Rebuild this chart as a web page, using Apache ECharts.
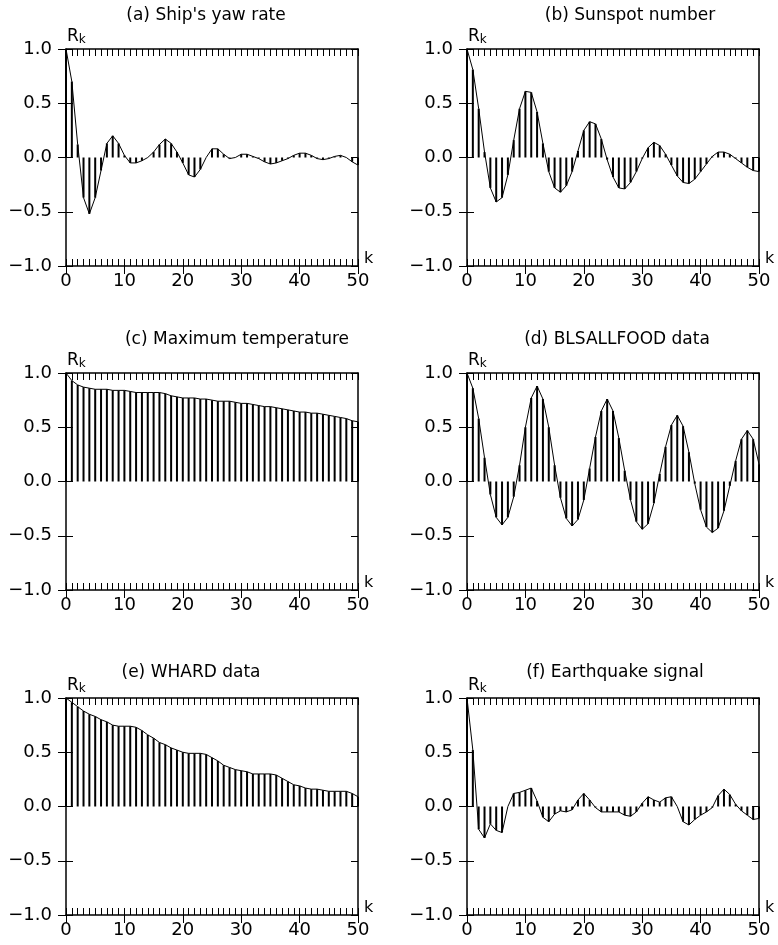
<!DOCTYPE html>
<html>
<head>
<meta charset="utf-8">
<script src="https://cdn.jsdelivr.net/npm/echarts@6/dist/echarts.min.js"></script>
<style>
html,body{margin:0;padding:0;background:#fff;}
#chart{width:778px;height:945px;}
</style>
</head>
<body>
<div id="chart"></div>
<script>
// ---------- data ----------
const lags = [0,1,2,3,4,5,6,7,8,9,10,11,12,13,14,15,16,17,18,19,20,21,22,23,24,25,26,27,28,29,30,31,32,33,34,35,36,37,38,39,40,41,42,43,44,45,46,47,48,49,50];

const panelTitles = ['(a) Ship\'s yaw rate', '(b) Sunspot number', '(c) Maximum temperature', '(d) BLSALLFOOD data', '(e) WHARD data', '(f) Earthquake signal'];

const shipYaw = [1.00,0.70,0.12,-0.37,-0.52,-0.37,-0.12,0.13,0.20,0.13,0.02,-0.05,-0.05,-0.03,0.00,0.05,0.12,0.17,0.13,0.05,-0.05,-0.16,-0.18,-0.11,0.00,0.08,0.08,0.03,-0.01,0.00,0.03,0.03,0.01,-0.01,-0.04,-0.06,-0.05,-0.03,-0.01,0.02,0.04,0.04,0.02,-0.01,-0.02,-0.01,0.01,0.02,0.00,-0.04,-0.07];

const sunspot = [1.00,0.81,0.45,0.05,-0.28,-0.41,-0.37,-0.16,0.16,0.45,0.61,0.60,0.42,0.13,-0.13,-0.28,-0.32,-0.26,-0.13,0.06,0.25,0.33,0.31,0.17,-0.02,-0.18,-0.28,-0.29,-0.23,-0.13,-0.01,0.09,0.14,0.11,0.03,-0.07,-0.17,-0.23,-0.24,-0.20,-0.13,-0.06,0.01,0.05,0.05,0.03,-0.01,-0.05,-0.09,-0.12,-0.13];

const maxTemp = [1.00,0.93,0.89,0.87,0.86,0.85,0.85,0.85,0.84,0.84,0.84,0.83,0.82,0.82,0.82,0.82,0.82,0.81,0.79,0.78,0.77,0.77,0.77,0.76,0.76,0.75,0.74,0.74,0.74,0.73,0.72,0.72,0.71,0.70,0.69,0.69,0.68,0.67,0.66,0.65,0.64,0.64,0.63,0.63,0.62,0.61,0.60,0.59,0.58,0.56,0.55];

const blsAllFood = [1.00,0.86,0.58,0.22,-0.12,-0.33,-0.40,-0.33,-0.14,0.15,0.50,0.77,0.88,0.76,0.50,0.15,-0.15,-0.34,-0.41,-0.35,-0.17,0.12,0.41,0.65,0.76,0.65,0.40,0.10,-0.17,-0.37,-0.44,-0.39,-0.20,0.07,0.32,0.52,0.61,0.51,0.27,-0.02,-0.26,-0.42,-0.47,-0.43,-0.27,-0.04,0.19,0.39,0.47,0.39,0.16];

const whard = [1.00,0.96,0.92,0.88,0.85,0.83,0.80,0.78,0.75,0.74,0.74,0.74,0.73,0.70,0.66,0.63,0.59,0.57,0.54,0.52,0.50,0.49,0.49,0.49,0.48,0.45,0.42,0.38,0.36,0.34,0.33,0.32,0.30,0.30,0.30,0.30,0.29,0.26,0.23,0.20,0.19,0.17,0.16,0.16,0.15,0.14,0.14,0.14,0.14,0.12,0.09];

const earthquake = [1.00,0.52,-0.21,-0.29,-0.16,-0.22,-0.24,0.00,0.12,0.13,0.15,0.17,0.05,-0.10,-0.14,-0.07,-0.04,-0.05,-0.03,0.06,0.12,0.06,-0.01,-0.05,-0.05,-0.05,-0.05,-0.08,-0.09,-0.05,0.03,0.09,0.06,0.04,0.08,0.09,0.00,-0.14,-0.17,-0.12,-0.08,-0.05,-0.01,0.10,0.16,0.11,0.02,-0.04,-0.08,-0.12,-0.11];

const xTickLabels = ['0','10','20','30','40','50'];
const yTickLabels = ['\u22121.0','\u22120.5','0.0','0.5','1.0'];

const panelSeries = [shipYaw, sunspot, maxTemp, blsAllFood, whard, earthquake];

// ---------- layout ----------
const FONT = 'DejaVu Sans';
const colLeft = [66, 467];
const rowTop = [49, 373, 698];
const gW = 292, gH = 217;
const titleCX = [206, 630, 237, 617, 191, 615];
const titleCY = [16, 16, 340, 340, 673, 673];

const grids = [], xAxes = [], yAxes = [], series = [], graphics = [];

for (let p = 0; p < 6; p++) {
  const col = p % 2, row = Math.floor(p / 2);
  const left = colLeft[col], top = rowTop[row];
  grids.push({left: left, top: top, width: gW, height: gH, show: false, containLabel: false});

  const baseX = {gridIndex: p, type: 'value', min: 0, max: 50, splitLine: {show: false}};
  xAxes.push(Object.assign({}, baseX, {
    position: 'bottom', interval: 10,
    axisLine: {show: true, onZero: false, lineStyle: {color: '#000', width: 1.5}},
    axisTick: {show: true, inside: false, length: 8, lineStyle: {color: '#000', width: 1}},
    axisLabel: {show: true, margin: 6, color: '#000', fontFamily: FONT, fontSize: 18,
      formatter: v => xTickLabels[Math.round(v / 10)]}
  }));
  xAxes.push(Object.assign({}, baseX, {
    position: 'bottom', interval: 1,
    axisLine: {show: false, onZero: false},
    axisTick: {show: true, inside: true, length: 7, lineStyle: {color: '#000', width: 1}},
    axisLabel: {show: false}
  }));
  xAxes.push(Object.assign({}, baseX, {
    position: 'top', interval: 1,
    axisLine: {show: true, onZero: false, lineStyle: {color: '#000', width: 1.5}},
    axisTick: {show: true, inside: true, length: 7, lineStyle: {color: '#000', width: 1}},
    axisLabel: {show: false}
  }));

  const baseY = {gridIndex: p, type: 'value', min: -1, max: 1, interval: 0.5, splitLine: {show: false}};
  yAxes.push(Object.assign({}, baseY, {
    position: 'left',
    axisLine: {show: true, onZero: false, lineStyle: {color: '#000', width: 1.5}},
    axisTick: {show: true, inside: false, length: 8, lineStyle: {color: '#000', width: 1}},
    axisLabel: {show: true, margin: 14, color: '#000', fontFamily: FONT, fontSize: 18,
      formatter: v => yTickLabels[Math.round((v + 1) / 0.5)]}
  }));
  yAxes.push(Object.assign({}, baseY, {
    position: 'left',
    axisLine: {show: false, onZero: false},
    axisTick: {show: true, inside: true, length: 7, lineStyle: {color: '#000', width: 1}},
    axisLabel: {show: false}
  }));
  yAxes.push(Object.assign({}, baseY, {
    position: 'right',
    axisLine: {show: true, onZero: false, lineStyle: {color: '#000', width: 1.5}},
    axisTick: {show: true, inside: true, length: 7, lineStyle: {color: '#000', width: 1}},
    axisLabel: {show: false}
  }));

  const pairs = lags.map((k, i) => [k, panelSeries[p][i]]);

  series.push({
    type: 'custom',
    xAxisIndex: 3 * p, yAxisIndex: 3 * p,
    data: pairs,
    clip: false,
    silent: true,
    renderItem: function (params, api) {
      const a = api.coord([api.value(0), 0]);
      const b = api.coord([api.value(0), api.value(1)]);
      return {type: 'line', shape: {x1: a[0], y1: a[1], x2: b[0], y2: b[1]},
        style: {stroke: '#000', lineWidth: 2}};
    }
  });
  series.push({
    type: 'line',
    xAxisIndex: 3 * p, yAxisIndex: 3 * p,
    data: pairs,
    showSymbol: false, symbol: 'none',
    silent: true,
    animation: false,
    lineStyle: {color: '#000', width: 1}
  });

  graphics.push({
    type: 'text', x: titleCX[p], y: titleCY[p],
    style: {text: panelTitles[p], fill: '#000', font: '17px "' + FONT + '"',
      textAlign: 'center', textVerticalAlign: 'middle'}
  });
  graphics.push({
    type: 'text', x: left + 1, y: top - 12,
    style: {text: '{r|R}{s|k}', textVerticalAlign: 'middle', textAlign: 'left',
      rich: {
        r: {fontFamily: FONT, fontSize: 17, fill: '#000', color: '#000', verticalAlign: 'bottom'},
        s: {fontFamily: FONT, fontSize: 12, fill: '#000', color: '#000', verticalAlign: 'bottom'}
      }}
  });
  graphics.push({
    type: 'text', x: left + gW + 6, y: top + gH - 7,
    style: {text: 'k', fill: '#000', font: '16px "' + FONT + '"',
      textAlign: 'left', textVerticalAlign: 'middle'}
  });
}

const chart = echarts.init(document.getElementById('chart'), null, {renderer: 'canvas'});
chart.setOption({
  backgroundColor: '#fff',
  animation: false,
  grid: grids,
  xAxis: xAxes,
  yAxis: yAxes,
  series: series,
  graphic: graphics
});
</script>
</body>
</html>
